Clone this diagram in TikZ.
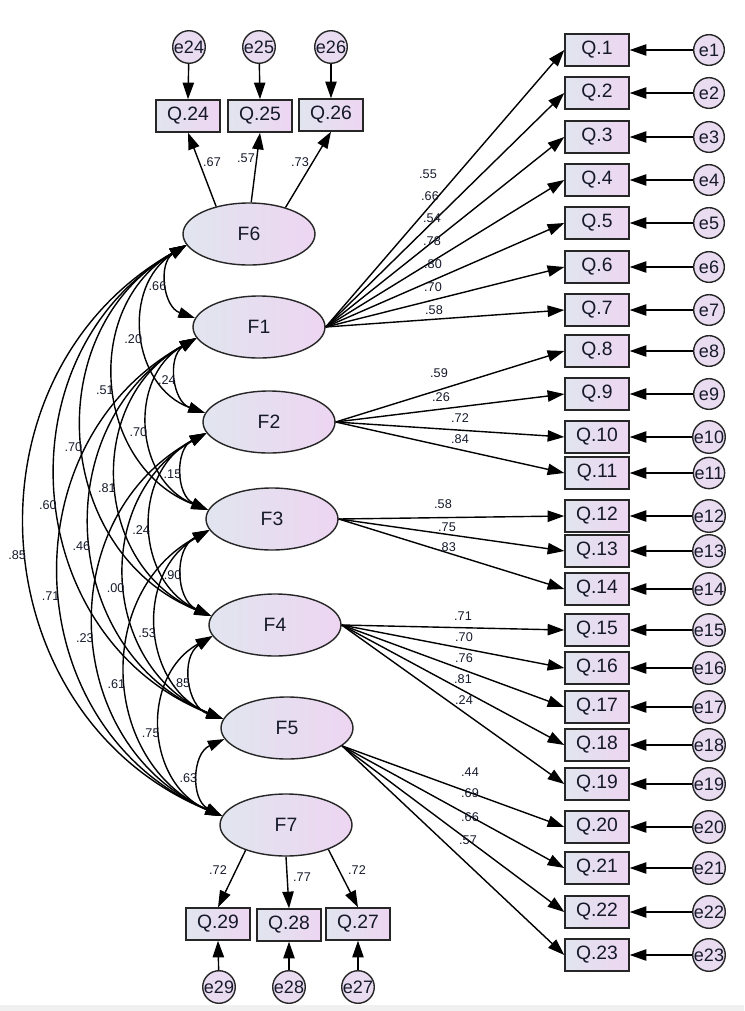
\documentclass[tikz,border=0pt]{standalone}
\usepackage{fontspec}
\setmainfont{Liberation Sans}
\usetikzlibrary{shapes.geometric,arrows.meta}
\definecolor{lblue}{HTML}{E1E5EF}
\definecolor{lpink}{HTML}{EDD5F1}
\definecolor{epink}{HTML}{E9DCF1}
\definecolor{txt}{HTML}{15192A}
\begin{document}
\begin{tikzpicture}[x=0.75pt,y=-0.75pt,
 lat/.style={ellipse, draw=black!85, line width=1.05pt, minimum width=99pt, minimum height=46.5pt, inner sep=0pt, left color=lblue, right color=lpink, font=\fontsize{14.5}{16}\selectfont, text=txt},
 obs/.style={rectangle, draw=black!85, line width=1.05pt, minimum width=48pt, minimum height=24pt, inner sep=0pt, left color=lblue, right color=lpink, font=\fontsize{14.5}{16}\selectfont, text=txt},
 err/.style={circle, draw=black!85, line width=1.05pt, minimum size=23pt, inner sep=0pt, fill=epink, font=\fontsize{13.5}{14}\selectfont, text=txt},
 lab/.style={font=\fontsize{9.5}{10}\selectfont, inner sep=1pt, text=txt},
 clab/.style={lab, pos=0.52, anchor=east},
 arr/.style={line width=1.05pt, -{Triangle[length=12.5pt,width=8.5pt]}},
 cov/.style={line width=1.05pt, {Triangle[length=12.5pt,width=8pt]}-{Triangle[length=12.5pt,width=8pt]}, bend right=64, looseness=1.18},
]
\path[use as bounding box] (0,0) rectangle (744,1011);
\fill[black!6] (0,1005) rectangle (744,1011);

% latent factors
\node[lat] (F6) at (249,234) {F6};
\node[lat] (F1) at (259,327) {F1};
\node[lat] (F2) at (269,422) {F2};
\node[lat] (F3) at (272,519) {F3};
\node[lat] (F4) at (275,625) {F4};
\node[lat] (F5) at (287,728) {F5};
\node[lat] (F7) at (286,825) {F7};

% right column indicators and errors
\foreach \i/\y in {1/50,2/93,3/137,4/180,5/223,6/267,7/310,8/351,9/394,10/437,11/473,12/516,13/551,14/589,15/630,16/668,17/707,18/745,19/784,20/827,21/868,22/912,23/955}{
  \node[obs] (Q\i) at (597,\y) {Q.\i};
  \node[err] (e\i) at (709,\y) {e\i};
  \draw[arr] (e\i) -- (Q\i.east);
}

% top indicators
\node[obs] (Q24) at (188,116) {Q.24};
\node[obs] (Q25) at (260,116) {Q.25};
\node[obs] (Q26) at (331,115) {Q.26};
\node[err] (e24) at (189,47) {e24};
\node[err] (e25) at (259,47) {e25};
\node[err] (e26) at (331,47) {e26};
\draw[arr] (e24) -- (Q24.north);
\draw[arr] (e25) -- (Q25.north);
\draw[arr] (e26) -- (Q26.north);
\draw[arr] (F6.140) -- (Q24.south);
\draw[arr] (F6.86) -- (Q25.south);
\draw[arr] (F6.36) -- (Q26.south);
\node[lab] (l24) at (212,162) {.67};
\node[lab] (l25) at (246,158) {.57};
\node[lab] (l26) at (300,162) {.73};

% bottom indicators
\node[obs] (Q29) at (218,924) {Q.29};
\node[obs] (Q28) at (289,925) {Q.28};
\node[obs] (Q27) at (358,924) {Q.27};
\node[err] (e29) at (219,987) {e29};
\node[err] (e28) at (289,987) {e28};
\node[err] (e27) at (358,987) {e27};
\draw[arr] (e29) -- (Q29.south);
\draw[arr] (e28) -- (Q28.south);
\draw[arr] (e27) -- (Q27.south);
\draw[arr] (F7.212) -- (Q29.north);
\draw[arr] (F7.south) -- (Q28.north);
\draw[arr] (F7.-30) -- (Q27.north);
\node[lab] (l29) at (218,870) {.72};
\node[lab] (l28) at (302,877) {.77};
\node[lab] (l27) at (357,870) {.72};

% loadings
\foreach \i in {1,...,7}{\draw[arr] (F1.east) -- (Q\i.west);}
\foreach \i in {8,...,11}{\draw[arr] (F2.east) -- (Q\i.west);}
\foreach \i in {12,13,14}{\draw[arr] (F3.east) -- (Q\i.west);}
\foreach \i in {15,...,19}{\draw[arr] (F4.east) -- (Q\i.west);}
\foreach \i in {20,...,23}{\draw[arr] (F5.-18) -- (Q\i.west);}

\foreach \n/\x/\y/\t in {1/428/174/.55,2/430/196/.66,3/432/218/.54,4/432/241/.78,5/433/264/.80,6/433/287/.70,7/434/310/.58,
  8/439/373/.59,9/441/397/.26,10/460/418/.72,11/460/439/.84,
  12/443/504/.58,13/447/527/.75,14/447/547/.83,
  15/463/616/.71,16/464/637/.70,17/464/658/.76,18/463/679/.81,19/464/700/.24,
  20/470/772/.44,21/470/793/.69,22/470/817/.66,23/468/840/.57}{
  \node[lab] (l\n) at (\x,\y) {\t};
}

% covariances
\draw[cov] (F6.190) to node[clab]{.66} (F1.172);
\draw[cov] (F6.190) to node[clab]{.20} (F2.172);
\draw[cov] (F6.190) to node[clab]{.51} (F3.172);
\draw[cov] (F6.190) to node[clab]{.70} (F4.172);
\draw[cov] (F6.190) to node[clab]{.60} (F5.172);
\draw[cov] (F6.190) to node[clab]{.85} (F7.172);
\draw[cov] (F1.190) to node[clab]{.24} (F2.172);
\draw[cov] (F1.190) to node[clab]{.70} (F3.172);
\draw[cov] (F1.190) to node[clab]{.81} (F4.172);
\draw[cov] (F1.190) to node[clab]{.46} (F5.172);
\draw[cov] (F1.190) to node[clab]{.71} (F7.172);
\draw[cov] (F2.190) to node[clab]{.15} (F3.172);
\draw[cov] (F2.190) to node[clab]{.24} (F4.172);
\draw[cov] (F2.190) to node[clab]{.00} (F5.172);
\draw[cov] (F2.190) to node[clab]{.23} (F7.172);
\draw[cov] (F3.190) to node[clab]{.90} (F4.172);
\draw[cov] (F3.190) to node[clab]{.53} (F5.172);
\draw[cov] (F3.190) to node[clab]{.61} (F7.172);
\draw[cov] (F4.190) to node[clab]{.85} (F5.172);
\draw[cov] (F4.190) to node[clab]{.75} (F7.172);
\draw[cov] (F5.190) to node[clab]{.63} (F7.172);
\end{tikzpicture}
\end{document}
